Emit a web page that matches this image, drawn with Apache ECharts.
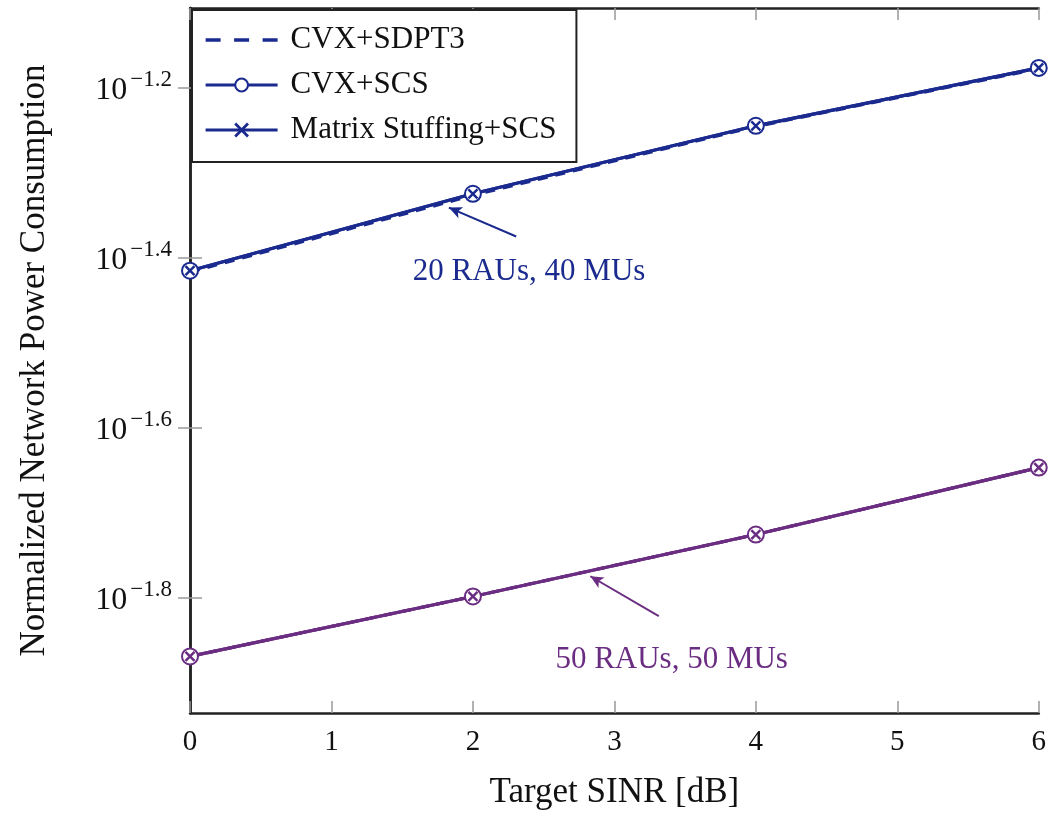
<!DOCTYPE html>
<html><head><meta charset="utf-8">
<script src="https://cdn.jsdelivr.net/npm/echarts@6/dist/echarts.min.js"></script>
<style>html,body{margin:0;padding:0;background:#fff}#c{width:1049px;height:815px}</style>
</head><body><div id="c"></div>
<script>
// Target SINR [dB]
const sinr = [0, 2, 4, 6];
// log10 of normalized network power consumption
const sdpt3_20_40 = [-1.4170, -1.3265, -1.2455, -1.1775];
const scs_20_40   = [-1.4153, -1.3247, -1.2447, -1.1765];
const ms_20_40    = [-1.4153, -1.3247, -1.2447, -1.1765];
const sdpt3_50_50 = [-1.8694, -1.7988, -1.7259, -1.6471];
const scs_50_50   = [-1.8694, -1.7988, -1.7259, -1.6471];
const ms_50_50    = [-1.8694, -1.7988, -1.7259, -1.6471];
const yTicks = [-1.8, -1.6, -1.4, -1.2];
const xTicks = [0, 1, 2, 3, 4, 5, 6];
const names = ['CVX+SDPT3', 'CVX+SCS', 'Matrix Stuffing+SCS'];
const labels = ['20 RAUs, 40 MUs', '50 RAUs, 50 MUs'];

const BLUE = '#1b2a8e', PURPLE = '#6b2d82';
const FONT = '"Liberation Serif", "DejaVu Serif", serif';
const CROSS = 'path://M0,0L10,10M10,0L0,10';
const DASH_ICON = 'path://M0,6.3h15v3.4h-15zM28.5,6.3h15v3.4h-15zM57,6.3h15v3.4h-15zM0,0h0.01v0.01h-0.01zM72,16h-0.01v-0.01h0.01z';

const pairs = a => a.map((v, i) => [sinr[i], v]);

function mk(name, data, color, kind, showName) {
  const s = {
    name: showName ? name : name + ' ',
    type: 'line', data: pairs(data),
    lineStyle: {color, width: 3.2, type: kind === 'dash' ? [10, 8] : 'solid'},
    itemStyle: {color, borderColor: color, borderWidth: 2.5},
    symbol: 'none', symbolSize: 14, z: 3, animation: false
  };
  if (kind === 'circle') { s.symbol = 'emptyCircle'; s.symbolSize = 16; }
  if (kind === 'cross') { s.symbol = CROSS; s.symbolSize = 9; }
  return s;
}

const series = [
  mk(names[0], sdpt3_20_40, BLUE, 'dash', true),
  mk(names[1], scs_20_40, BLUE, 'circle', true),
  mk(names[2], ms_20_40, BLUE, 'cross', true),
  mk(names[0], sdpt3_50_50, PURPLE, 'dash', false),
  mk(names[1], scs_50_50, PURPLE, 'circle', false),
  mk(names[2], ms_50_50, PURPLE, 'cross', false)
];

function annot(color, tail, tip, textPos, text) {
  return {
    type: 'line', data: [], silent: true, animation: false,
    markLine: {
      silent: true, animation: false, symbol: ['none', 'arrow'], symbolSize: [9, 13],
      lineStyle: {color, width: 2, type: 'solid'}, label: {show: false},
      data: [[{coord: tail}, {coord: tip}]]
    },
    markPoint: {
      silent: true, animation: false, symbol: 'circle', symbolSize: 0,
      label: {show: true, position: 'inside', formatter: text, color, fontFamily: FONT, fontSize: 31},
      data: [{coord: textPos}]
    }
  };
}
series.push(annot(BLUE, [2.306, -1.375], [1.83, -1.341], [2.397, -1.4165], labels[0]));
series.push(annot(PURPLE, [3.314, -1.822], [2.83, -1.775], [3.405, -1.873], labels[1]));

const tickStyle = {show: true, inside: true, length: 12, lineStyle: {color: '#999', width: 1.5}};
const lineStyle = {show: true, lineStyle: {color: '#222', width: 2.5}};

const option = {
  animation: false,
  backgroundColor: '#fff',
  grid: {left: 190, right: 8, top: 8, bottom: 99},
  legend: {
    data: [{name: names[0], icon: DASH_ICON, itemStyle: {borderWidth: 0}}, {name: names[1]}, {name: names[2]}],
    orient: 'vertical', left: 192, top: 10,
    backgroundColor: '#fff', borderColor: '#222', borderWidth: 2, borderRadius: 0,
    padding: [14, 20, 16, 12], itemWidth: 72, itemHeight: 16, itemGap: 13,
    lineStyle: {width: 3.2},
    itemStyle: {borderWidth: 2.8},
    textStyle: {fontFamily: FONT, fontSize: 31, color: '#111', lineHeight: 32, padding: [0, 0, 0, 8]}
  },
  xAxis: [{
    type: 'value', min: 0, max: 6, interval: 1,
    name: 'Target SINR [dB]', nameLocation: 'middle', nameGap: 62,
    nameTextStyle: {fontFamily: FONT, fontSize: 35, color: '#111'},
    axisLine: lineStyle, axisTick: tickStyle, splitLine: {show: false},
    axisLabel: {fontFamily: FONT, fontSize: 29, color: '#111', margin: 15}
  }, {
    type: 'value', min: 0, max: 6, interval: 1, position: 'top',
    axisLine: lineStyle, axisTick: tickStyle, splitLine: {show: false}, axisLabel: {show: false}
  }],
  yAxis: [{
    type: 'value', min: -1.936, max: -1.106,
    name: 'Normalized Network Power Consumption', nameLocation: 'middle', nameGap: 138,
    nameTextStyle: {fontFamily: FONT, fontSize: 35, color: '#111'},
    axisLine: lineStyle, splitLine: {show: false},
    axisTick: Object.assign({customValues: yTicks}, tickStyle),
    axisLabel: {
      customValues: yTicks, margin: 18,
      formatter: v => '{b|10}{s|\u2212' + Math.abs(v).toFixed(1) + '}',
      rich: {
        b: {fontFamily: FONT, fontSize: 32, color: '#111', verticalAlign: 'bottom'},
        s: {fontFamily: FONT, fontSize: 23, color: '#111', verticalAlign: 'bottom', padding: [0, 0, 15, 3]}
      }
    }
  }, {
    type: 'value', min: -1.936, max: -1.106, position: 'right',
    axisLine: lineStyle, splitLine: {show: false},
    axisTick: Object.assign({customValues: yTicks}, tickStyle),
    axisLabel: {show: false}
  }],
  series
};
const chart = echarts.init(document.getElementById('c'));
chart.setOption(option);
</script></body></html>
